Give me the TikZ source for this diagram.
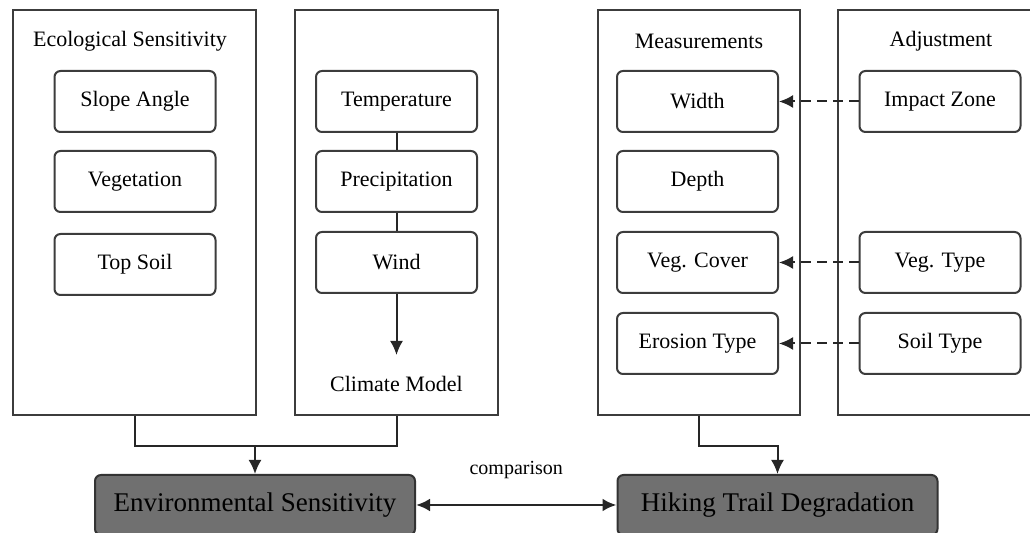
\documentclass[tikz,border=0pt]{standalone}
\usepackage{fontspec}
\setmainfont{Liberation Serif}
\usetikzlibrary{positioning,arrows.meta}

\definecolor{linegray}{HTML}{3C3C3C}
\definecolor{boxgray}{HTML}{707070}

\tikzset{
  panel/.style={draw=linegray, line width=1pt, minimum height=202.5pt, inner sep=0pt},
  item/.style={draw=linegray, line width=1pt, rounded corners=3pt,
    minimum width=80.5pt, minimum height=30.5pt, inner sep=0pt,
    font=\fontsize{11}{13}\selectfont},
  title/.style={font=\fontsize{11}{13}\selectfont, inner sep=0pt},
  result/.style={draw=black!80, fill=boxgray, line width=1pt, rounded corners=3pt,
    minimum width=160pt, minimum height=30pt, inner sep=0pt,
    font=\fontsize{13.5}{16}\selectfont},
  link/.style={draw=black!85, line width=1pt},
  tip/.style={-{Latex[length=7pt,width=6.5pt]}},
  dasharr/.style={link, tip, dash pattern=on 5pt off 3pt},
}

\begin{document}
\begin{tikzpicture}[x=0.5pt, y=-0.5pt]
  \useasboundingbox (0,0) rectangle (1030,533);

  % panels
  \node[panel, minimum width=121.5pt] (eco)  at (134.5,212.5) {};
  \node[panel, minimum width=101.5pt] (clim) at (396.5,212.5) {};
  \node[panel, minimum width=101pt]   (meas) at (699,212.5) {};
  \node[panel, minimum width=103.5pt] (adj)  at (941.5,212.5) {};

  % panel titles
  \node[title] (ecot)  at (130,41)  {Ecological Sensitivity};
  \node[title] (meast) at (699,41)  {Measurements};
  \node[title] (adjt)  at (941,41)  {Adjustment};
  \node[title] (cm)    at (396.5,384) {Climate Model};

  % ecological sensitivity
  \node[item] (slope) at (135,101.5) {Slope Angle};
  \node[item] (veg)   at (135,181.5) {Vegetation};
  \node[item] (soil)  at (135,264.5) {Top Soil};

  % climate
  \node[item] (temp)   at (396.5,101.5) {Temperature};
  \node[item] (precip) at (396.5,181.5) {Precipitation};
  \node[item] (wind)   at (396.5,262.5) {Wind};
  \coordinate (cmtop) at (396.5,355);
  \draw[link] (temp) -- (precip);
  \draw[link] (precip) -- (wind);
  \draw[link, tip] (wind) -- (cmtop);

  % measurements
  \node[item] (wid)  at (697.5,101.5) {Width};
  \node[item] (dep)  at (697.5,181.5) {Depth};
  \node[item] (vcov) at (697.5,262.5) {Veg. Cover};
  \node[item] (ero)  at (697.5,343.5) {Erosion Type};

  % adjustment
  \node[item] (imp)   at (940,101.5) {Impact Zone};
  \node[item] (vtype) at (940,262.5) {Veg. Type};
  \node[item] (stype) at (940,343.5) {Soil Type};
  \draw[dasharr] (imp) -- (wid);
  \draw[dasharr] (vtype) -- (vcov);
  \draw[dasharr] (stype) -- (ero);

  % results
  \node[result] (env) at (255,505)   {Environmental Sensitivity};
  \node[result] (hik) at (777.5,505) {Hiking Trail Degradation};

  \coordinate (join) at (255,445);
  \draw[link] (eco.south) -- ++(0,30) -| (clim.south);
  \draw[link, tip] (join) -- (env);
  \draw[link, tip] (meas.south) -- ++(0,30) -| (hik.north);

  \draw[link, line width=1.4pt, {Latex[length=7pt,width=6.5pt]}-{Latex[length=7pt,width=6.5pt]}] (env) -- (hik)
    node[midway, above=9pt, font=\fontsize{10}{12}\selectfont] (cmp) {comparison};
\end{tikzpicture}
\end{document}
